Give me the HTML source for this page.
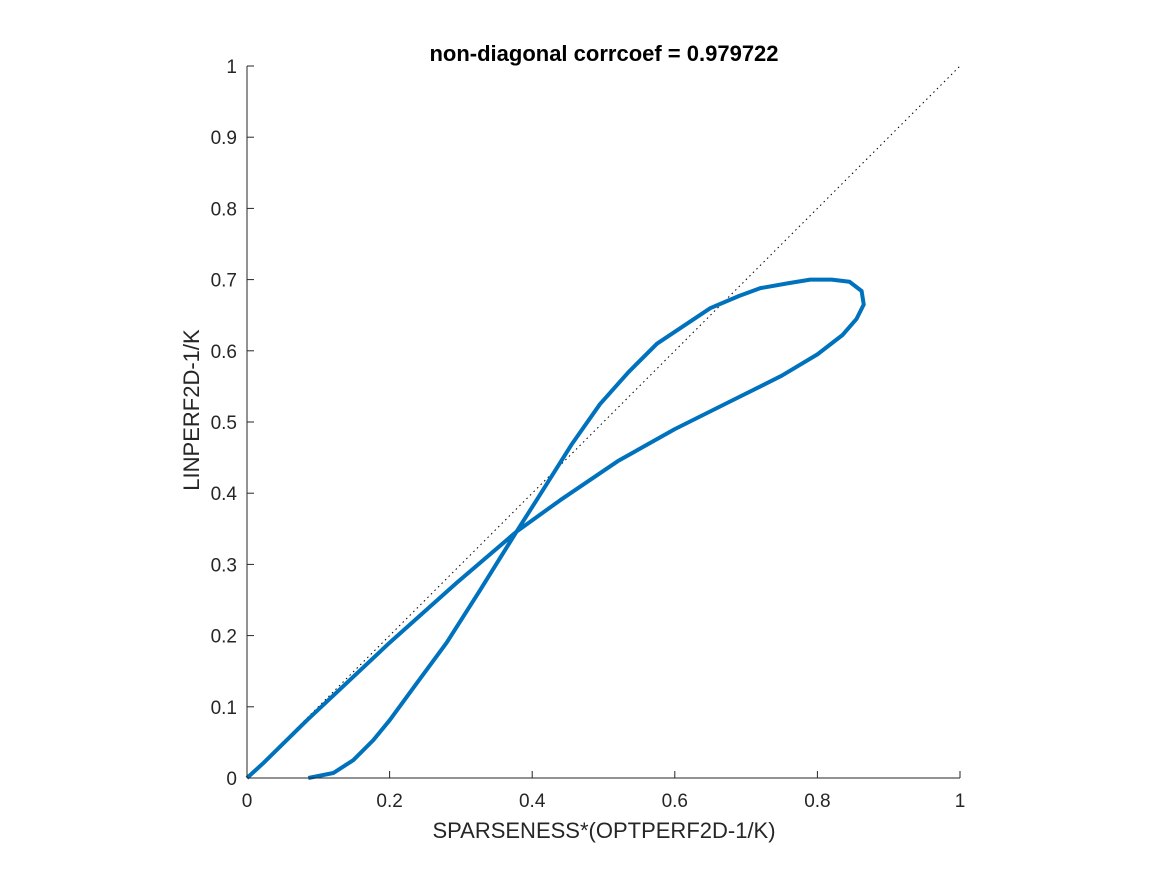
<!DOCTYPE html>
<html><head><meta charset="utf-8"><style>
body{margin:0;background:#fff;}
svg text{font-family:"Liberation Sans",sans-serif;fill:#262626;}
</style></head><body>
<svg id="chart" width="1167" height="875" xmlns="http://www.w3.org/2000/svg">
<text x="604" y="61" font-size="22" font-weight="bold" text-anchor="middle" fill="#000" style="fill:#000">non-diagonal corrcoef = 0.979722</text>
<text x="604" y="838" font-size="22" text-anchor="middle">SPARSENESS*(OPTPERF2D-1/K)</text>
<text transform="translate(199,410) rotate(-90)" font-size="22" text-anchor="middle">LINPERF2D-1/K</text>
<g id="axes"></g>
</svg>
<script>
const xTicks=[0,0.2,0.4,0.6,0.8,1];
const yTicks=[0,0.1,0.2,0.3,0.4,0.5,0.6,0.7,0.8,0.9,1];
const curveX=[0,0.023,0.084,0.2,0.294,0.378,0.439,0.52,0.6,0.68,0.75,0.8,0.835,0.855,0.865,0.862,0.845,0.82,0.79,0.76,0.72,0.69,0.65,0.62,0.575,0.535,0.495,0.455,0.406,0.378,0.327,0.28,0.238,0.2,0.177,0.149,0.121,0.086];
const curveY=[0,0.021,0.081,0.19,0.274,0.346,0.39,0.445,0.49,0.53,0.565,0.595,0.622,0.645,0.665,0.684,0.697,0.7,0.7,0.695,0.688,0.677,0.66,0.64,0.61,0.57,0.525,0.468,0.39,0.346,0.264,0.19,0.133,0.081,0.053,0.025,0.007,0];
const NS='http://www.w3.org/2000/svg';
const X0=247,X1=960,Y0=778,Y1=66;
const sx=v=>X0+v*(X1-X0), sy=v=>Y0-v*(Y0-Y1);
const g=document.getElementById('axes');
function el(t,a){const e=document.createElementNS(NS,t);for(const k in a)e.setAttribute(k,a[k]);g.appendChild(e);return e;}
let d=el('line',{x1:sx(0),y1:sy(0),x2:sx(1),y2:sy(1),stroke:'#000','stroke-width':1,'stroke-dasharray':'1.5,3.5'});


let p=el('polyline',{points:curveX.map((x,i)=>sx(x)+','+sy(curveY[i])).join(' '),fill:'none',stroke:'#0072bd','stroke-width':4,'stroke-linejoin':'round'});


let ax=el('line',{x1:X0,y1:Y0,x2:X1,y2:Y0,stroke:'#262626','stroke-width':1});


let ay=el('line',{x1:X0,y1:Y0,x2:X0,y2:Y1,stroke:'#262626','stroke-width':1});


xTicks.forEach(v=>{
 const tk=el('line',{x1:sx(v),y1:Y0,x2:sx(v),y2:Y0-7,stroke:'#262626'});
 
 
 const t=el('text',{x:sx(v),y:Y0+29,'font-size':19,'text-anchor':'middle'});t.textContent=String(v);
 
 
});
yTicks.forEach(v=>{
 const tk=el('line',{x1:X0,y1:sy(v),x2:X0+7,y2:sy(v),stroke:'#262626'});
 
 
 const t=el('text',{x:X0-10,y:sy(v)+7,'font-size':19,'text-anchor':'end'});t.textContent=String(v);
 
 
});
</script>
</body></html>
